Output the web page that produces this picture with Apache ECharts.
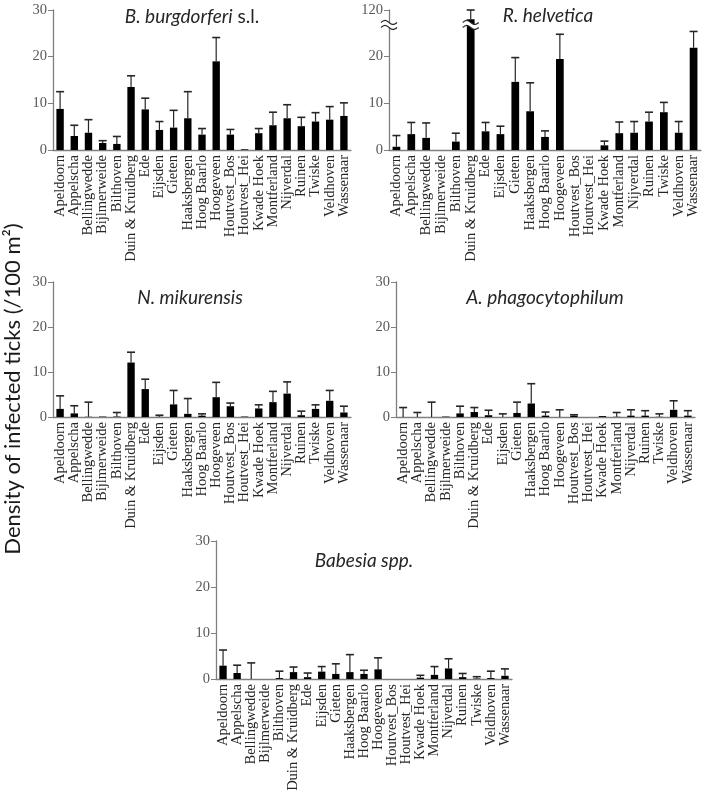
<!DOCTYPE html>
<html><head><meta charset="utf-8">
<script src="https://cdn.jsdelivr.net/npm/echarts@6/dist/echarts.min.js"></script>
<style>html,body{margin:0;padding:0;background:#fff}#c{width:708px;height:797px}</style>
</head><body><div id="c"></div>
<script>
const categories = ['Apeldoorn','Appelscha','Bellingwedde','Bijlmerweide','Bilthoven','Duin & Kruidberg','Ede','Eijsden','Gieten','Haaksbergen','Hoog Baarlo','Hoogeveen','Houtvest_Bos','Houtvest_Hei','Kwade Hoek','Montferland','Nijverdal','Ruinen','Twiske','Veldhoven','Wassenaar'];

const bbValues = [8.8,3.0,3.7,1.5,1.3,13.5,8.7,4.3,4.8,6.8,3.3,19.0,3.3,0.15,3.6,5.3,6.8,5.1,6.1,6.5,7.3];
const bbErrors = [3.7,2.3,2.8,0.5,1.6,2.4,2.4,1.8,3.7,5.7,1.3,5.1,1.1,0,1.0,2.8,2.9,1.9,1.9,2.8,2.8];

const rhValues = [0.7,3.4,2.6,0,1.8,118,4.0,3.4,14.6,8.3,2.8,19.5,0,0,1.0,3.6,3.7,6.1,8.1,3.7,21.9];
const rhErrors = [2.4,2.5,3.2,0,1.8,2.0,1.9,1.7,5.2,6.1,1.3,5.3,0,0,0.9,2.4,2.4,2.0,2.1,2.4,3.5];

const nmValues = [1.8,0.8,0.05,0.1,0.1,12.1,6.2,0.05,2.8,0.7,0.3,4.4,2.4,0.1,1.9,3.3,5.2,0.4,1.8,3.6,1.0];
const nmErrors = [2.9,1.7,3.25,0,0.9,2.3,2.2,0.35,3.1,3.4,0.4,3.3,0.7,0,0.8,2.4,2.6,0.9,0.9,2.3,1.4];

const apValues = [0,0,0,0.1,0.8,1.1,0.4,0,0.9,3.0,0.3,0,0.3,0,0.2,0.05,0.3,0.3,0.05,1.6,0.3];
const apErrors = [2.1,1.0,3.3,0,1.6,1.0,1.1,0.7,2.4,4.4,0.8,1.6,0.2,0,0,0.95,1.3,1.1,0.65,2.0,1.1];

const bsValues = [2.9,1.3,0,0,0.2,1.5,0.4,1.6,1.1,1.5,1.1,2.1,0,0,0.3,0.9,2.3,0.4,0.1,0.2,0.7];
const bsErrors = [3.4,1.7,3.5,0,1.5,1.1,0.9,1.1,2.2,3.8,0.8,2.5,0,0,0.5,1.8,2.1,0.8,0.4,1.5,1.5];

const yAxisMax = 30;
const yAxisStep = 10;
// R. helvetica axis is broken: values above the break are shifted down by rhSkip
const rhBreakAt = 26.8;
const rhSkip = 90;
const toBroken = v => (v > rhBreakAt ? v - rhSkip : v);
const fromBroken = v => (v > rhBreakAt ? v + rhSkip : v);

const panels = [
  {title: '{i|B. burgdorferi} s.l.', values: bbValues, errors: bbErrors,
   grid: {left: 53, top: 10, width: 298, height: 140}, tx: 192, ty: 17},
  {title: '{i|R. helvetica}', values: rhValues, errors: rhErrors,
   grid: {left: 389, top: 10, width: 312, height: 140}, tx: 548, ty: 16, broken: true},
  {title: '{i|N. mikurensis}', values: nmValues, errors: nmErrors,
   grid: {left: 53, top: 282, width: 298, height: 135}, tx: 190, ty: 298},
  {title: '{i|A. phagocytophilum}', values: apValues, errors: apErrors,
   grid: {left: 396, top: 282, width: 299, height: 135}, tx: 545, ty: 298},
  {title: '{i|Babesia spp.}', values: bsValues, errors: bsErrors,
   grid: {left: 216, top: 541, width: 296, height: 138}, tx: 364, ty: 561}
];

const axisColor = '#7f7f7f';
const option = {
  animation: false,
  backgroundColor: '#fff',
  grid: panels.map(p => Object.assign({containLabel: false}, p.grid)),
  title: panels.map(p => ({
    text: p.title, left: p.tx, top: p.ty, padding: 0,
    textAlign: 'center', textVerticalAlign: 'middle',
    textStyle: {fontFamily: 'Lato', fontSize: 19, fontWeight: 'normal', color: '#262626',
      rich: {i: {fontFamily: 'Lato', fontSize: 19, fontStyle: 'italic', color: '#262626'}}}
  })),
  xAxis: panels.map((p, i) => ({
    type: 'category', gridIndex: i, data: categories,
    axisLine: {lineStyle: {color: axisColor, width: 1.3}},
    axisTick: {length: 4, lineStyle: {color: axisColor}},
    axisLabel: {rotate: 90, interval: 0, margin: 5, fontFamily: 'Liberation Serif', fontSize: 14.5, color: '#262626'}
  })),
  yAxis: panels.map((p, i) => ({
    type: 'value', gridIndex: i, min: 0, max: yAxisMax, interval: yAxisStep,
    splitLine: {show: false},
    axisLine: {show: true, lineStyle: {color: axisColor, width: 1.3}},
    axisTick: {show: true, length: 5, lineStyle: {color: axisColor}},
    axisLabel: {margin: 6, fontFamily: 'Liberation Serif', fontSize: 14.5, color: '#595959',
      formatter: p.broken ? (v => String(fromBroken(v))) : (v => String(v))}
  })),
  series: []
};

panels.forEach((p, i) => {
  const tf = p.broken ? toBroken : (v => v);
  option.series.push({
    type: 'bar', xAxisIndex: i, yAxisIndex: i, data: p.values.map(tf),
    barWidth: '52%', itemStyle: {color: '#000'}, z: 2
  });
  option.series.push({
    type: 'custom', xAxisIndex: i, yAxisIndex: i, z: 3,
    data: p.values.map((v, k) => [k, tf(v), tf(v + p.errors[k]), p.errors[k]]),
    encode: {x: 0, y: 1},
    renderItem: function (params, api) {
      const idx = api.value(0), v = api.value(1), u = api.value(2), e = api.value(3);
      if (!(e > 0)) return null;
      const base = api.coord([idx, v]);
      const top = api.coord([idx, u]);
      const hw = 4;
      return {type: 'group', children: [
        {type: 'line', shape: {x1: base[0], y1: base[1], x2: top[0], y2: top[1]}, style: {stroke: '#262626', lineWidth: 1.2}},
        {type: 'line', shape: {x1: top[0] - hw, y1: top[1], x2: top[0] + hw, y2: top[1]}, style: {stroke: '#262626', lineWidth: 1.6}}
      ]};
    }
  });
});

const chart = echarts.init(document.getElementById('c'), null, {renderer: 'canvas'});
chart.setOption(option);

function wave(cx, cy, w, amp) {
  const pts = [];
  for (let t = 0; t <= 12; t++) {
    const x = cx - w / 2 + w * t / 12;
    pts.push([x, cy - amp * Math.sin(t / 12 * 2 * Math.PI)]);
  }
  return pts;
}
function breakMark(cx, cy) {
  const up = wave(cx, cy - 2.5, 16, 2);
  const lo = wave(cx, cy + 2.5, 16, 2);
  return [
    {type: 'polygon', shape: {points: up.concat(lo.slice().reverse())}, style: {fill: '#fff'}, z: 50},
    {type: 'polyline', shape: {points: up, smooth: 0.3}, style: {stroke: '#262626', lineWidth: 1.2, fill: null}, z: 51},
    {type: 'polyline', shape: {points: lo, smooth: 0.3}, style: {stroke: '#262626', lineWidth: 1.2, fill: null}, z: 51}
  ];
}
const bi = panels.findIndex(p => p.broken);
const x0 = chart.convertToPixel({xAxisIndex: bi}, 0);
const x1 = chart.convertToPixel({xAxisIndex: bi}, 1);
const axisX = x0 - (x1 - x0) / 2;
const yb = chart.convertToPixel({yAxisIndex: bi}, rhBreakAt);
const duinX = chart.convertToPixel({xAxisIndex: bi}, categories.indexOf('Duin & Kruidberg'));
const graphics = [
  {type: 'text', x: 13, y: 389, rotation: Math.PI / 2,
   style: {text: 'Density of infected ticks (/100 m²)', fontFamily: 'Lato', fontSize: 22, fill: '#1a1a1a', textAlign: 'center', textVerticalAlign: 'middle'}}
].concat(breakMark(axisX, yb)).concat(breakMark(duinX, yb));
chart.setOption({graphic: graphics});
</script>
</body></html>
